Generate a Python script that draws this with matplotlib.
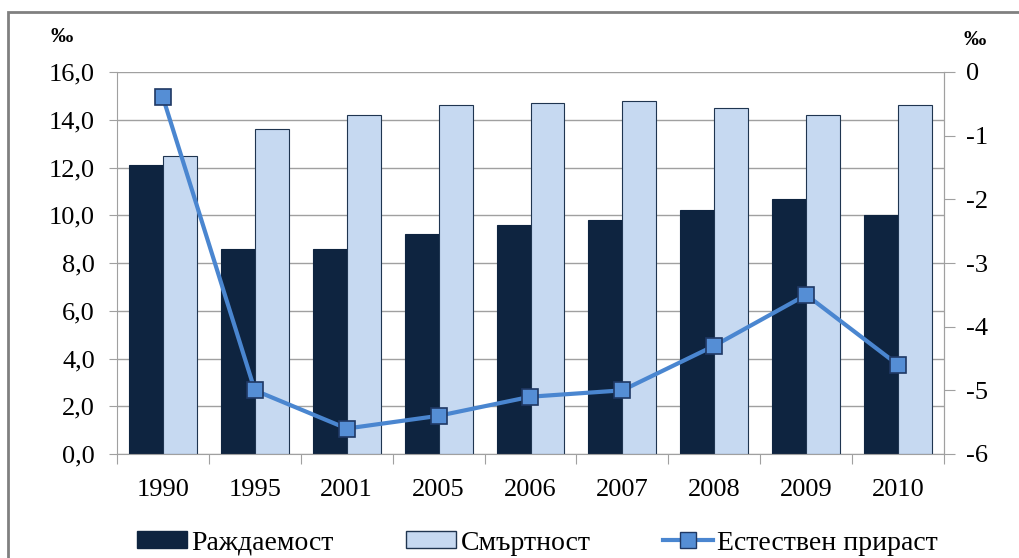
import matplotlib.pyplot as plt
import matplotlib.patches as mpatches
import numpy as np

# данни
years = ['1990', '1995', '2001', '2005', '2006', '2007', '2008', '2009', '2010']
births = [12.1, 8.6, 8.6, 9.2, 9.6, 9.8, 10.2, 10.7, 10.0]
deaths = [12.5, 13.6, 14.2, 14.6, 14.7, 14.8, 14.5, 14.2, 14.6]
growth = [-0.4, -5.0, -5.6, -5.4, -5.1, -5.0, -4.3, -3.5, -4.6]

plt.rcParams['font.family'] = ['Liberation Serif', 'DejaVu Serif']

dark = '#0E2440'
light = '#C6D9F1'
line_col = '#4A86D0'
grid_col = '#A0A0A0'
fs = 19

fig = plt.figure(figsize=(10.19, 5.58), dpi=100)
ax1 = fig.add_axes([117 / 1019, 1 - 454 / 558, (944 - 117) / 1019, (454 - 72) / 558])

x = np.arange(len(years))
w = 0.37
ax1.bar(x - w / 2, births, width=w, color=dark, edgecolor=dark, linewidth=0.8, zorder=2)
ax1.bar(x + w / 2, deaths, width=w, color=light, edgecolor='#1F3550', linewidth=0.8, zorder=2)

ax1.set_xlim(-0.5, len(years) - 0.5)
ax1.set_ylim(0, 16)
ax1.set_yticks(np.arange(0, 17, 2))
ax1.set_yticklabels([f'{v:.1f}'.replace('.', ',') for v in np.arange(0, 17, 2)], fontsize=fs)
ax1.yaxis.grid(True, color=grid_col, linewidth=1)
ax1.set_axisbelow(True)

# x ticks on category boundaries, labels in centres
ax1.set_xticks(np.arange(-0.5, len(years), 1))
ax1.set_xticklabels([])
ax1.set_xticks(x, minor=True)
ax1.set_xticklabels(years, minor=True, fontsize=fs)
ax1.tick_params(axis='x', which='major', length=7, color=grid_col, direction='out')
ax1.tick_params(axis='x', which='minor', length=0, pad=18)
ax1.tick_params(axis='y', length=6, color=grid_col, pad=10)

ax1.spines['top'].set_visible(False)
for s in ['left', 'bottom', 'right']:
    ax1.spines[s].set_color(grid_col)

ax2 = ax1.twinx()
ax2.plot(x, growth, color=line_col, linewidth=3, marker='s', markersize=12,
         markerfacecolor='#558ED5', markeredgecolor='#1F3864', markeredgewidth=1.2, zorder=3)
ax2.set_ylim(-6, 0)
ax2.set_yticks(np.arange(-6, 1, 1))
ax2.set_yticklabels([str(v) for v in range(-6, 1)], fontsize=fs)
ax2.tick_params(axis='y', length=8, color=grid_col, pad=8)
for s in ['top', 'left', 'bottom']:
    ax2.spines[s].set_visible(False)
ax2.spines['right'].set_color(grid_col)

fig.text(62 / 1019, 1 - 37 / 558, '‰', fontsize=16, fontweight='bold', ha='center', va='center')
fig.text(975 / 1019, 1 - 40 / 558, '‰', fontsize=16, fontweight='bold', ha='center', va='center')

# рамка
fig.patches.append(mpatches.Rectangle((8 / 1019, -0.05), 1.0, 1.05 - 12 / 558,
                                      transform=fig.transFigure, fill=False,
                                      edgecolor='#808080', linewidth=2))

h1 = mpatches.Patch(facecolor=dark, edgecolor=dark)
h2 = mpatches.Patch(facecolor=light, edgecolor='#1F3550')
h3 = plt.Line2D([], [], color=line_col, linewidth=3, marker='s', markersize=12,
                markerfacecolor='#558ED5', markeredgecolor='#1F3864')
fig.legend([h1, h2, h3], ['Раждаемост', 'Смъртност', 'Естествен прираст'],
           loc='center', bbox_to_anchor=(0.5275, 1 - 543 / 558), ncol=3, frameon=False,
           fontsize=20, handlelength=1.8, handleheight=0.55, handletextpad=0.15,
           columnspacing=2.6)

fig.savefig('out.png', dpi=100)
